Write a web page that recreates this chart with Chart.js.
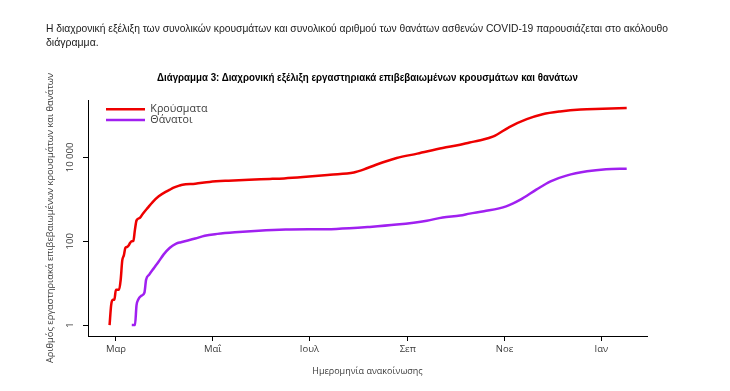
<!DOCTYPE html>
<html>
<head>
<meta charset="utf-8">
<script src="https://cdn.jsdelivr.net/npm/chart.js@4/dist/chart.umd.min.js"></script>
<style>
  html, body { margin: 0; padding: 0; background: #fff; }
  #page { position: relative; width: 730px; height: 391px; overflow: hidden; }
  #wrap { position: absolute; left: 0; top: 0; width: 730px; height: 391px; }
  .txt { position: absolute; white-space: nowrap; font-family: "Liberation Sans", Arial, sans-serif; font-size: 10.5px; line-height: 14px; color: #1a1a1a; transform-origin: 0 50%; }
  #l1 { left: 46px; top: 21px; }
  #l2 { left: 46px; top: 35px; }
  #ctitle { left: 156.5px; top: 69px; font-size: 11.5px; font-weight: bold; color: #000; line-height: 16px; }
</style>
</head>
<body>
<div id="page">
  <div id="wrap"><canvas id="covid-chart"></canvas></div>
  <span class="txt" id="l1">Η διαχρονική εξέλιξη των συνολικών κρουσμάτων και συνολικού αριθμού των θανάτων ασθενών COVID-19 παρουσιάζεται στο ακόλουθο</span>
  <span class="txt" id="l2">διάγραμμα.</span>
  <span class="txt" id="ctitle">Διάγραμμα 3: Διαχρονική εξέλιξη εργαστηριακά επιβεβαιωμένων κρουσμάτων και θανάτων</span>
</div>
<script>
// cumulative confirmed cases, by announcement date
const casesDates = ["2020-02-26","2020-02-27","2020-02-28","2020-02-29","2020-03-01","2020-03-03","2020-03-04","2020-03-05",
  "2020-03-06","2020-03-07","2020-03-08","2020-03-09","2020-03-10","2020-03-11","2020-03-12","2020-03-13","2020-03-14",
  "2020-03-16","2020-03-18","2020-03-21","2020-03-24","2020-03-28","2020-04-02","2020-04-04","2020-04-06","2020-04-10",
  "2020-04-12","2020-04-20","2020-04-29","2020-05-11","2020-05-24","2020-06-06","2020-06-15","2020-06-27","2020-07-14",
  "2020-07-29","2020-08-04","2020-08-12","2020-08-25","2020-09-07","2020-09-23","2020-10-04","2020-10-10","2020-10-16",
  "2020-10-25","2020-11-04","2020-11-15","2020-11-25","2020-12-06","2020-12-19","2021-01-02","2021-01-17"];
const casesValues = [1, 3, 4, 4, 7, 7, 12, 35,
  46, 70, 73, 79, 92, 100, 102, 190, 315,
  360, 455, 625, 850, 1180, 1550, 1700, 1870, 2130,
  2240, 2360, 2600, 2790, 2950, 3060, 3160, 3400, 3870,
  4380, 5100, 6700, 9700, 12300, 16700, 20000, 22700, 25300,
  31600, 52900, 81500, 107000, 125000, 139000, 144000, 150000];

// cumulative deaths
const deathsDates = ["2020-03-11","2020-03-13","2020-03-14","2020-03-15","2020-03-17","2020-03-19","2020-03-20","2020-03-22",
  "2020-03-25","2020-03-28","2020-03-31","2020-04-04","2020-04-08","2020-04-11","2020-04-20","2020-04-26","2020-05-04",
  "2020-05-15","2020-05-30","2020-06-16","2020-07-18","2020-08-08","2020-08-25","2020-09-13","2020-09-23","2020-10-04",
  "2020-10-10","2020-10-19","2020-11-02","2020-11-11","2020-11-21","2020-11-30","2020-12-10","2020-12-23","2021-01-04",
  "2021-01-17"];
const deathsValues = [1, 1, 3, 4, 5, 6, 12, 16,
  23, 33, 48, 70, 88, 95, 116, 136, 150,
  164, 179, 190, 197, 220, 250, 310, 370, 410,
  456, 520, 680, 980, 1700, 2690, 3670, 4650, 5200,
  5380];

const monthTickDays = [0, 61, 122, 184, 245, 306];
const monthLabels = ["Μαρ", "Μαΐ", "Ιουλ", "Σεπ", "Νοε", "Ιαν"];
const yTickValues = [1, 100, 10000];
const yTickLabels = ["1", "100", "10 000"];

const yTitle = "Αριθμός εργαστηριακά επιβεβαιωμένων κρουσμάτων και θανάτων";
const xTitle = "Ημερομηνία ανακοίνωσης";

// stretch / squeeze the text lines to the widths they have in the document
function fitWidth(id, target, useSpacing) {
  const el = document.getElementById(id);
  const w = el.getBoundingClientRect().width;
  const gaps = el.textContent.split(" ").length - 1;
  if (useSpacing && w < target) {
    el.style.wordSpacing = ((target - w) / gaps) + "px";
  } else {
    el.style.transform = "scaleX(" + (target / w) + ")";
  }
}
fitWidth("l1", 622, true);
fitWidth("ctitle", 421, false);

const origin = Date.parse("2020-03-01T00:00:00Z");
const dayOf = d => (Date.parse(d + "T00:00:00Z") - origin) / 864e5;
const toPoints = (dates, vals) => dates.map((d, i) => ({ x: dayOf(d), y: vals[i] }));

const axisFont = { family: "'Open Sans', sans-serif", size: 9.5 };
const textColor = "#3a3a3a";

// put the legend at the top-left corner inside the plot, like R does
const legendShift = {
  id: "legendShift",
  afterLayout(chart) {
    chart.legend.left = chart.chartArea.left + 18;
    chart.legend.top = chart.chartArea.top + 4;
  }
};

const ctx = document.getElementById("covid-chart").getContext("2d");
new Chart(ctx, {
  type: "line",
  data: {
    datasets: [
      {
        label: "Κρούσματα",
        data: toPoints(casesDates, casesValues),
        borderColor: "#ee0000",
        backgroundColor: "#ee0000",
        borderWidth: 2.5,
        pointRadius: 0,
        cubicInterpolationMode: "monotone",
        fill: false
      },
      {
        label: "Θάνατοι",
        data: toPoints(deathsDates, deathsValues),
        borderColor: "#a020f0",
        backgroundColor: "#a020f0",
        borderWidth: 2.5,
        pointRadius: 0,
        cubicInterpolationMode: "monotone",
        fill: false
      }
    ]
  },
  options: {
    responsive: true,
    maintainAspectRatio: false,
    animation: false,
    layout: { padding: { top: 100, left: 0, right: 83, bottom: 0 } },
    plugins: {
      title: { display: false },
      legend: {
        position: "chartArea",
        align: "start",
        labels: {
          boxWidth: 39,
          boxHeight: 0,
          padding: 0,
          color: textColor,
          font: { family: "'Open Sans', sans-serif", size: 10.7 }
        }
      },
      tooltip: { enabled: false }
    },
    scales: {
      x: {
        type: "linear",
        min: -17.6,
        max: 334.8,
        afterBuildTicks: s => { s.ticks = monthTickDays.map(v => ({ value: v })); },
        afterFit: s => { s.height = 55; },
        ticks: {
          callback: v => monthLabels[monthTickDays.indexOf(v)],
          autoSkip: false,
          maxRotation: 0,
          padding: 3,
          color: textColor,
          font: axisFont
        },
        grid: { display: true, drawOnChartArea: false, tickLength: 5, color: "#000" },
        border: { display: true, color: "#000", width: 1 },
        title: {
          display: true,
          text: xTitle,
          color: textColor,
          font: { family: "'Open Sans', sans-serif", size: 9 },
          padding: { top: 0, bottom: 14 }
        }
      },
      y: {
        type: "logarithmic",
        min: 0.55,
        max: 234000,
        afterBuildTicks: s => { s.ticks = yTickValues.map(v => ({ value: v })); },
        afterFit: s => { s.width = 88; },
        ticks: {
          callback: v => yTickLabels[yTickValues.indexOf(v)],
          minRotation: 90,
          maxRotation: 90,
          crossAlign: "center",
          padding: -2.5,
          color: textColor,
          font: axisFont
        },
        grid: { display: true, drawOnChartArea: false, tickLength: 5, color: "#000" },
        border: { display: true, color: "#000", width: 1 },
        title: {
          display: true,
          text: yTitle,
          color: textColor,
          font: { family: "'Open Sans', sans-serif", size: 9.3 },
          padding: { top: 44.5, bottom: 0 }
        }
      }
    }
  },
  plugins: [legendShift]
});
</script>
</body>
</html>
